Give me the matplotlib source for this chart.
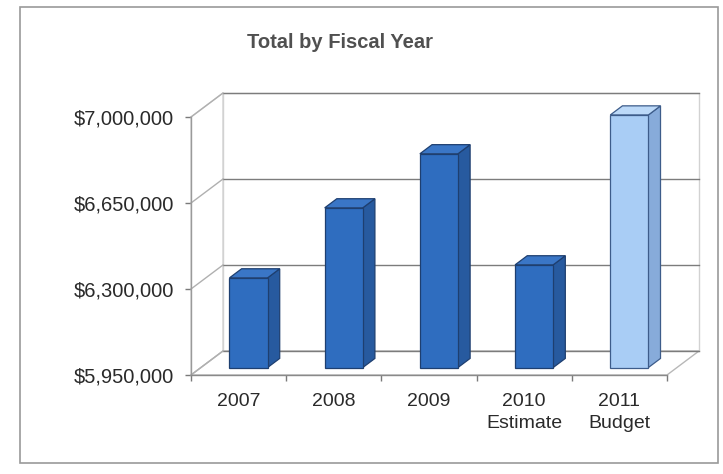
import matplotlib
matplotlib.use("Agg")
import matplotlib.pyplot as plt
from matplotlib.patches import Polygon, Rectangle

# ---- data ----
categories = ["2007", "2008", "2009", "2010\nEstimate", "2011\nBudget"]
values = [6315000, 6600000, 6820000, 6368000, 6978000]
y_ticks = [5950000, 6300000, 6650000, 7000000]
title = "Total by Fiscal Year"

plt.rcParams['font.family'] = ['Liberation Sans', 'DejaVu Sans']

W, H = 723, 474
fig = plt.figure(figsize=(W / 100, H / 100), dpi=100)
fig.patch.set_facecolor('white')

# front plane of the 3-D box
ax = fig.add_axes([191 / W, 99 / H, 476 / W, 258 / H])
ax.set_xlim(-0.5, 4.5)
ax.set_ylim(y_ticks[0], y_ticks[-1])
ax.patch.set_visible(False)
for s in ax.spines.values():
    s.set_visible(False)

base = y_ticks[0]
top = y_ticks[-1]
x0, x1 = -0.5, len(categories) - 0.5
DX = 0.336          # depth offset in category units
DY = 97700          # depth offset in value units

grid_c = '#7c7c7c'
wall_c = '#d2d2d2'

# back wall
ax.add_patch(Polygon([(x0 + DX, base + DY), (x1 + DX, base + DY),
                      (x1 + DX, top + DY), (x0 + DX, top + DY)],
                     closed=True, facecolor='white', edgecolor=wall_c,
                     lw=1, clip_on=False, zorder=1))
# side wall
ax.add_patch(Polygon([(x0, base), (x0 + DX, base + DY), (x0 + DX, top + DY), (x0, top)],
                     closed=True, facecolor='white', edgecolor=wall_c,
                     lw=1, clip_on=False, zorder=1))
# floor
ax.add_patch(Polygon([(x0, base), (x1, base), (x1 + DX, base + DY), (x0 + DX, base + DY)],
                     closed=True, facecolor='white', edgecolor='#b8b8b8',
                     lw=1, clip_on=False, zorder=1))

# gridlines on back wall and side wall
for v in y_ticks:
    ax.plot([x0 + DX, x1 + DX], [v + DY, v + DY], color=grid_c, lw=1,
            clip_on=False, zorder=2)
    ax.plot([x0, x0 + DX], [v, v + DY], color='#b0b0b0', lw=1,
            clip_on=False, zorder=2)

# front axis lines
ax.plot([x0, x0], [base, top], color='#9a9a9a', lw=1, clip_on=False, zorder=2)
ax.plot([x0, x1], [base, base], color='#8a8a8a', lw=1, clip_on=False, zorder=2)

# bars
d1, d2 = 0.31, 0.69
bw = 0.40
for i, v in enumerate(values):
    if i == len(values) - 1:
        fc, sc, tc, ec = '#a9cdf5', '#87abda', '#bcd9f8', '#3d5c8a'
    else:
        fc, sc, tc, ec = '#2f6dbf', '#275a9f', '#3a76c6', '#1e3f70'
    xl = i - bw / 2 + d1 * DX
    xr = i + bw / 2 + d1 * DX
    yb = base + d1 * DY
    yt = v + d1 * DY
    ddx = (d2 - d1) * DX
    ddy = (d2 - d1) * DY
    # side face
    ax.add_patch(Polygon([(xr, yb), (xr + ddx, yb + ddy), (xr + ddx, yt + ddy), (xr, yt)],
                         closed=True, facecolor=sc, edgecolor=ec, lw=0.9,
                         clip_on=False, zorder=5))
    # top face
    ax.add_patch(Polygon([(xl, yt), (xr, yt), (xr + ddx, yt + ddy), (xl + ddx, yt + ddy)],
                         closed=True, facecolor=tc, edgecolor=ec, lw=0.9,
                         clip_on=False, zorder=5))
    # front face
    ax.bar(i + d1 * DX, v - base, bottom=yb, width=bw, color=fc,
           edgecolor=ec, linewidth=0.9, zorder=6, clip_on=False)

# ticks and labels
ax.set_yticks(y_ticks)
ax.set_yticklabels([f"${v:,.0f}" for v in y_ticks])
ax.tick_params(axis='y', length=4, width=1, color='#7a7a7a', pad=8,
               labelsize=14.5, labelcolor='#2a2a2a')
ax.set_xticks(range(len(categories)))
ax.set_xticklabels(categories, linespacing=1.4)
ax.tick_params(axis='x', which='major', length=0, pad=13,
               labelsize=14, labelcolor='#2a2a2a')
ax.set_xticks([k - 0.5 for k in range(len(categories) + 1)], minor=True)
ax.tick_params(axis='x', which='minor', length=4, width=1, color='#7a7a7a')

# title
fig.text(340 / W, 1 - 43 / H, title, ha='center', va='center',
         fontsize=14.5, fontweight='bold', color='#505050')

# chart border
fig.add_artist(Rectangle((20 / W, 11 / H), (718 - 20) / W, (467 - 11) / H,
                         transform=fig.transFigure, fill=False,
                         edgecolor='#9a9a9a', lw=1.2))

fig.savefig("out.png", dpi=100, facecolor='white')
